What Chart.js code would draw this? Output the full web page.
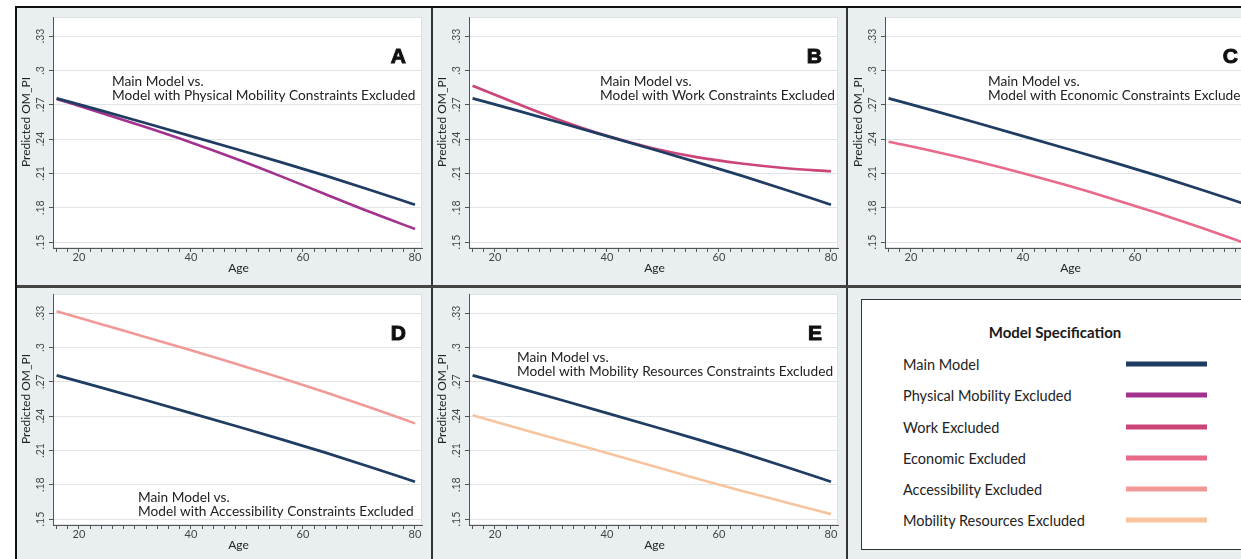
<!DOCTYPE html>
<html>
<head>
<meta charset="utf-8">
<script src="https://cdn.jsdelivr.net/npm/chart.js@4.4.1/dist/chart.umd.min.js"></script>
<style>
  html, body { margin: 0; padding: 0; background: #ffffff; }
  body { width: 1241px; height: 559px; overflow: hidden; position: relative; font-family: Lato, "Open Sans", sans-serif; }
  #frame { position: absolute; left: 15px; top: 6px; width: 1300px; height: 600px; background: #e9eef1;
           border-top: 2px solid #111; border-left: 2px solid #111; box-sizing: border-box; }
  canvas { position: absolute; }
  .vline { position: absolute; width: 2px; background: #333; top: 8px; height: 560px; }
  .hline { position: absolute; height: 3px; background: #444; left: 17px; width: 1240px; top: 285px; }
  #legend { position: absolute; left: 861px; top: 299px; width: 390px; height: 251px; background: #fff;
            border: 1.5px solid #333; box-sizing: border-box; }
  .lg-title { position: absolute; left: 1055px; top: 332px; transform: translate(-50%, -50%); font-weight: 700;
              font-size: 15px; color: #1a1a1a; white-space: nowrap; }
  .lg-text { position: absolute; left: 903px; font-size: 14.5px; color: #222; white-space: nowrap; transform: translateY(-50%); }
  .lg-swatch { position: absolute; left: 1126px; width: 81px; height: 5px; transform: translateY(-50%); }
</style>
</head>
<body>
<div id="frame"></div>
<canvas id="panel-a" width="413" height="276" style="left:17px;top:9px"></canvas>
<canvas id="panel-b" width="413" height="276" style="left:433px;top:9px"></canvas>
<canvas id="panel-c" width="413" height="276" style="left:849px;top:9px"></canvas>
<canvas id="panel-d" width="413" height="276" style="left:17px;top:286px"></canvas>
<canvas id="panel-e" width="413" height="276" style="left:433px;top:286px"></canvas>
<div class="vline" style="left:431px"></div>
<div class="vline" style="left:846px"></div>
<div class="hline"></div>
<div id="legend"></div>

<script>
// --- DATA ---
const ages = [16, 24, 32, 40, 48, 56, 64, 72, 80];
const mainModel = [0.2755, 0.2648, 0.2538, 0.2426, 0.2313, 0.2199, 0.2080, 0.1955, 0.1826];
const physicalExcluded = [0.2750, 0.2628, 0.2502, 0.2370, 0.2228, 0.2076, 0.1918, 0.1762, 0.1614];
const workExcluded = [0.2866, 0.2708, 0.2558, 0.2428, 0.2322, 0.2242, 0.2186, 0.2145, 0.2118];
const economicExcluded = [0.2377, 0.2293, 0.2201, 0.2101, 0.1993, 0.1877, 0.1753, 0.1622, 0.1484];
const accessibilityExcluded = [0.3315, 0.3202, 0.3089, 0.2974, 0.2856, 0.2734, 0.2607, 0.2474, 0.2336];
const mobilityResourcesExcluded = [0.2406, 0.2296, 0.2186, 0.2077, 0.1966, 0.1855, 0.1748, 0.1645, 0.1543];

const yTicks = [0.15, 0.18, 0.21, 0.24, 0.27, 0.30, 0.33];
const yTickLabels = ['.15', '.18', '.21', '.24', '.27', '.3', '.33'];
const xTicks = [20, 40, 60, 80];

const legendLabels = ['Main Model', 'Physical Mobility Excluded', 'Work Excluded', 'Economic Excluded', 'Accessibility Excluded', 'Mobility Resources Excluded'];
const legendColors = ['#1f3c62', '#a2328e', '#cc4579', '#e8698a', '#f09a98', '#f7c4a0'];

// --- PANELS ---
const panels = [
    { canvas: 'panel-a', letter: 'A', series: physicalExcluded, color: legendColors[1],
      caption: ['Main Model vs.', 'Model with Physical Mobility Constraints Excluded'], capX: 59, capY: 69 },
    { canvas: 'panel-b', letter: 'B', series: workExcluded, color: legendColors[2],
      caption: ['Main Model vs.', 'Model with Work Constraints Excluded'], capX: 131, capY: 69 },
    { canvas: 'panel-c', letter: 'C', series: economicExcluded, color: legendColors[3],
      caption: ['Main Model vs.', 'Model with Economic Constraints Excluded'], capX: 103, capY: 69 },
    { canvas: 'panel-d', letter: 'D', series: accessibilityExcluded, color: legendColors[4],
      caption: ['Main Model vs.', 'Model with Accessibility Constraints Excluded'], capX: 85, capY: 208 },
    { canvas: 'panel-e', letter: 'E', series: mobilityResourcesExcluded, color: legendColors[5],
      caption: ['Main Model vs.', 'Model with Mobility Resources Constraints Excluded'], capX: 48, capY: 68 }
];

const TEXT_FONT = 'Lato, "Open Sans", sans-serif';

// white plot region + all the text Stata puts around it
const panelDecor = {
    id: 'panelDecor',
    beforeDraw(chart) {
        const { ctx, chartArea: a } = chart;
        ctx.save();
        ctx.fillStyle = '#ffffff';
        ctx.fillRect(a.left, a.top, a.right - a.left, a.bottom - a.top);
        ctx.strokeStyle = '#dde2e5';
        ctx.lineWidth = 1;
        ctx.strokeRect(a.left + 0.5, a.top + 0.5, a.right - a.left - 1, a.bottom - a.top - 1);
        ctx.restore();
    },
    afterDraw(chart, args, opts) {
        const { ctx, chartArea: a, scales: { x, y } } = chart;
        ctx.save();

        // y tick labels, rotated like Stata
        ctx.fillStyle = '#444';
        ctx.font = '10.5px ' + TEXT_FONT;
        ctx.textAlign = 'center';
        ctx.textBaseline = 'alphabetic';
        yTicks.forEach((v, i) => {
            ctx.save();
            ctx.translate(a.left - 9.5, y.getPixelForValue(v));
            ctx.rotate(-Math.PI / 2);
            ctx.fillText(yTickLabels[i], 0, 0);
            ctx.restore();
        });

        // y title
        ctx.save();
        ctx.font = '12px ' + TEXT_FONT;
        ctx.fillStyle = '#222';
        ctx.translate(a.left - 23, a.top + 105);
        ctx.rotate(-Math.PI / 2);
        ctx.fillText('Predicted OM_PI', 0, 0);
        ctx.restore();

        // x tick labels + title
        ctx.font = '11px ' + TEXT_FONT;
        ctx.fillStyle = '#444';
        xTicks.forEach(v => ctx.fillText(String(v), x.getPixelForValue(v), a.bottom + 13));
        ctx.font = '12px ' + TEXT_FONT;
        ctx.fillStyle = '#222';
        ctx.fillText('Age', (a.left + a.right) / 2 + 1, a.bottom + 24);

        // caption
        ctx.textAlign = 'left';
        ctx.font = '13.7px ' + TEXT_FONT;
        ctx.fillStyle = '#222';
        opts.caption.forEach((line, i) => ctx.fillText(line, a.left + opts.capX, a.top + opts.capY + i * 14));

        // panel letter
        ctx.textAlign = 'right';
        ctx.font = 'bold 21px "Liberation Sans", Arial, sans-serif';
        ctx.fillStyle = '#111';
        ctx.strokeStyle = '#111';
        ctx.lineWidth = 1;
        ctx.fillText(opts.letter, a.left + 353, a.top + 46);
        ctx.strokeText(opts.letter, a.left + 353, a.top + 46);

        ctx.restore();
    }
};

function toPoints(values) {
    return ages.map((age, i) => ({ x: age, y: values[i] }));
}

function renderPanel(panel) {
    const ctx = document.getElementById(panel.canvas).getContext('2d');
    return new Chart(ctx, {
        type: 'line',
        data: {
            datasets: [
                {
                    label: legendLabels[0],
                    data: toPoints(mainModel),
                    borderColor: legendColors[0],
                    borderWidth: 2.8,
                    pointRadius: 0,
                    cubicInterpolationMode: 'monotone'
                },
                {
                    label: panel.letter,
                    data: toPoints(panel.series),
                    borderColor: panel.color,
                    borderWidth: 2.6,
                    pointRadius: 0,
                    cubicInterpolationMode: 'monotone'
                }
            ]
        },
        options: {
            responsive: false,
            animation: false,
            events: [],
            layout: { padding: { top: 8, right: 8, left: 0, bottom: 0 } },
            plugins: {
                legend: { display: false },
                tooltip: { enabled: false },
                panelDecor: { letter: panel.letter, caption: panel.caption, capX: panel.capX, capY: panel.capY }
            },
            scales: {
                x: {
                    type: 'linear',
                    min: 15.36,
                    max: 81.25,
                    afterBuildTicks: scale => {
                        const t = [];
                        for (let v = 16; v <= 80; v += 2) t.push({ value: v });
                        scale.ticks = t;
                    },
                    afterFit: scale => { scale.height = 37; },
                    ticks: { display: false },
                    grid: { drawOnChartArea: false, tickLength: 4, color: '#555', tickColor: '#555' },
                    border: { color: '#555', width: 1 }
                },
                y: {
                    type: 'linear',
                    min: 0.1448,
                    max: 0.3466,
                    afterBuildTicks: scale => { scale.ticks = yTicks.map(v => ({ value: v })); },
                    afterFit: scale => { scale.width = 36; },
                    ticks: { display: false },
                    grid: { color: '#e1e5e8', tickLength: 4, tickColor: '#555' },
                    border: { color: '#555', width: 1 }
                }
            }
        },
        plugins: [panelDecor]
    });
}

function renderLegend() {
    const body = document.body;
    const title = document.createElement('div');
    title.className = 'lg-title';
    title.textContent = 'Model Specification';
    body.appendChild(title);

    legendLabels.forEach((label, i) => {
        const yPos = 364.3 + i * 31.1;
        const text = document.createElement('div');
        text.className = 'lg-text';
        text.style.top = yPos + 'px';
        text.textContent = label;
        body.appendChild(text);

        const sw = document.createElement('div');
        sw.className = 'lg-swatch';
        sw.style.top = yPos + 'px';
        sw.style.background = legendColors[i];
        body.appendChild(sw);
    });
}

panels.forEach(renderPanel);
renderLegend();
</script>
</body>
</html>
